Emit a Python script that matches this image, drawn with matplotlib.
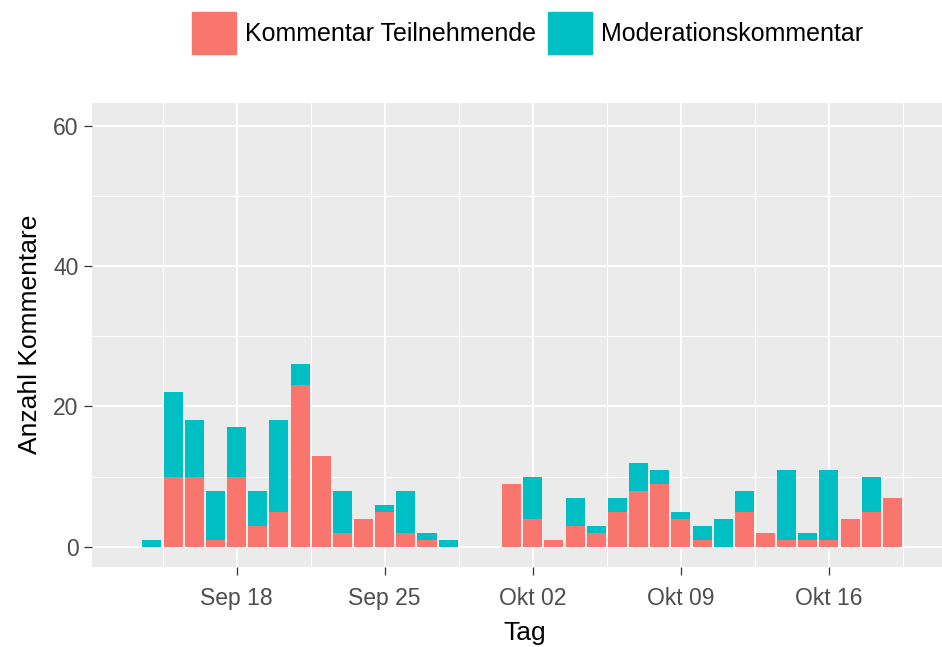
import datetime as dt
import matplotlib
matplotlib.use("Agg")
import matplotlib.pyplot as plt
import matplotlib.dates as mdates
from matplotlib.patches import Patch

# data (one entry per day)
days = ["2017-09-14", "2017-09-15", "2017-09-16", "2017-09-17", "2017-09-18",
        "2017-09-19", "2017-09-20", "2017-09-21", "2017-09-22", "2017-09-23",
        "2017-09-24", "2017-09-25", "2017-09-26", "2017-09-27", "2017-09-28",
        "2017-10-01", "2017-10-02", "2017-10-03", "2017-10-04", "2017-10-05",
        "2017-10-06", "2017-10-07", "2017-10-08", "2017-10-09", "2017-10-10",
        "2017-10-11", "2017-10-12", "2017-10-13", "2017-10-14", "2017-10-15",
        "2017-10-16", "2017-10-17", "2017-10-18", "2017-10-19"]
teilnehmende = [0, 10, 10, 1, 10, 3, 5, 23, 13, 2, 4, 5, 2, 1, 0,
                9, 4, 1, 3, 2, 5, 8, 9, 4, 1, 0, 5, 2, 1, 1, 1, 4, 5, 7]
moderation = [1, 12, 8, 7, 7, 5, 13, 3, 0, 6, 0, 1, 6, 1, 1,
              0, 6, 0, 4, 1, 2, 4, 2, 1, 2, 4, 3, 0, 10, 1, 10, 0, 5, 0]

series_labels = ["Kommentar Teilnehmende", "Moderationskommentar"]
tick_days = ["2017-09-18", "2017-09-25", "2017-10-02", "2017-10-09", "2017-10-16"]
tick_labels = ["Sep 18", "Sep 25", "Okt 02", "Okt 09", "Okt 16"]
y_ticks = [0, 20, 40, 60]

red = "#F8766D"
cyan = "#00BFC4"

plt.rcParams['font.family'] = ['Liberation Sans', 'DejaVu Sans']

x = mdates.date2num([dt.datetime.strptime(d, "%Y-%m-%d") for d in days])

fig = plt.figure(figsize=(9.42, 6.47), dpi=100)
ax = fig.add_axes([0.0973, 0.1241, 1.017 - 0.0973, 0.7172])
ax.set_facecolor("#EBEBEB")

ax.bar(x, teilnehmende, width=0.9, color=red, zorder=3)
ax.bar(x, moderation, width=0.9, bottom=teilnehmende, color=cyan, zorder=3)

xt = mdates.date2num([dt.datetime.strptime(d, "%Y-%m-%d") for d in tick_days])
ax.set_xticks(xt)
ax.set_xticklabels(tick_labels)
ax.set_xticks([t - 3.5 for t in xt] + [xt[-1] + 3.5], minor=True)
ax.set_yticks(y_ticks)
ax.set_yticks([10, 30, 50], minor=True)

# axis ranges (after ticks, so they are not widened)
x0 = mdates.date2num(dt.datetime(2017, 9, 18))
ax.set_xlim(x0 - 6.85, x0 + 34.1)
ax.set_ylim(-2.85, 63.3)

ax.grid(True, which="major", color="white", linewidth=1.5, zorder=0)
ax.grid(True, which="minor", color="white", linewidth=0.8, zorder=0)
ax.set_axisbelow(True)
for s in ax.spines.values():
    s.set_visible(False)

ax.tick_params(which="major", length=5.5, width=0.9, color="#333333",
               labelsize=16.5, labelcolor="#4D4D4D")
ax.tick_params(axis="x", which="major", pad=9)
ax.tick_params(axis="y", which="major", pad=4)
ax.tick_params(which="minor", length=0)

ax.set_xlabel("Tag", fontsize=19, labelpad=8)
ax.set_ylabel("Anzahl Kommentare", fontsize=19, labelpad=8)

handles = [Patch(color=red), Patch(color=cyan)]
fig.legend(handles, series_labels, loc="center", bbox_to_anchor=(0.56, 0.949),
           ncol=2, frameon=False, fontsize=18, handlelength=1.76,
           handleheight=2.2, handletextpad=0.36, columnspacing=0.45)

fig.savefig("out.png", dpi=100)
